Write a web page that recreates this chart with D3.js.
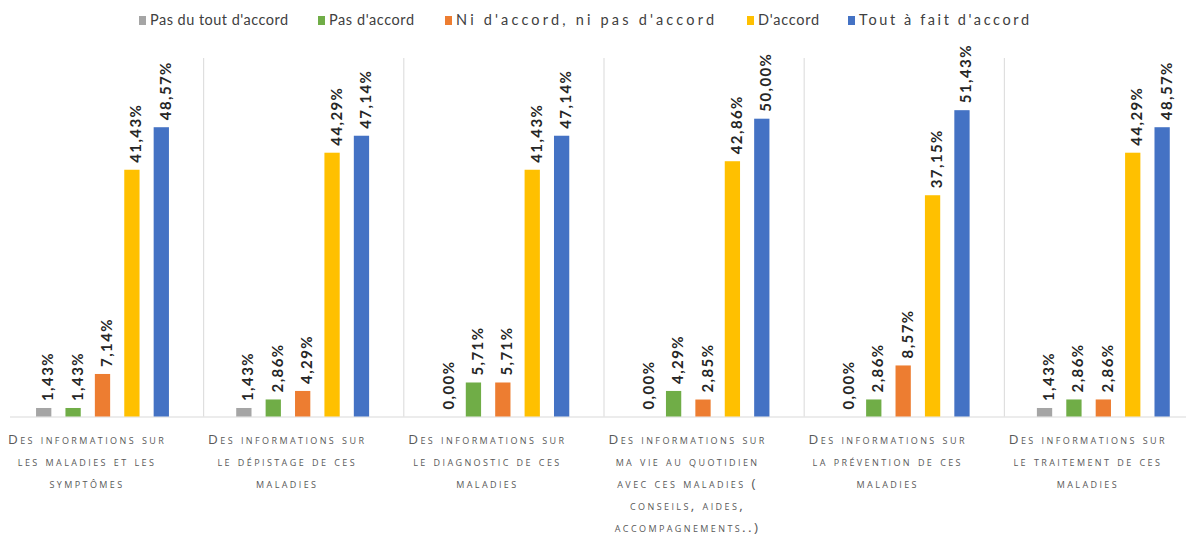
<!DOCTYPE html>
<html>
<head>
<meta charset="utf-8">
<script src="https://cdn.jsdelivr.net/npm/d3@7"></script>
<style>
  html, body { margin: 0; padding: 0; background: #fff; }
  svg { display: block; }
</style>
</head>
<body>
<svg id="chart" width="1186" height="535"></svg>
<script>
// Survey answers, one group per information topic
const categories = [
  "Des informations sur les maladies et les symptômes",
  "Des informations sur le dépistage de ces maladies",
  "Des informations sur le diagnostic de ces maladies",
  "Des informations sur ma vie au quotidien avec ces maladies ( conseils, aides, accompagnements..)",
  "Des informations sur la prévention de ces maladies",
  "Des informations sur le traitement de ces maladies"
];
// Wrapped lines of each category label
const categoryLines = [
  ["Des informations sur", "les maladies et les", "symptômes"],
  ["Des informations sur", "le dépistage de ces", "maladies"],
  ["Des informations sur", "le diagnostic de ces", "maladies"],
  ["Des informations sur", "ma vie au quotidien", "avec ces maladies (", "conseils, aides,", "accompagnements..)"],
  ["Des informations sur", "la prévention de ces", "maladies"],
  ["Des informations sur", "le traitement de ces", "maladies"]
];
const seriesNames = [
  "Pas du tout d'accord",
  "Pas d'accord",
  "Ni d'accord, ni pas d'accord",
  "D'accord",
  "Tout à fait d'accord"
];
// Percentages per series, in category order
const pasDuToutDaccord = [1.43, 1.43, 0.00, 0.00, 0.00, 1.43];
const pasDaccord       = [1.43, 2.86, 5.71, 4.29, 2.86, 2.86];
const niDaccordNiPas   = [7.14, 4.29, 5.71, 2.85, 8.57, 2.86];
const daccord          = [41.43, 44.29, 41.43, 42.86, 37.15, 44.29];
const toutAFaitDaccord = [48.57, 47.14, 47.14, 50.00, 51.43, 48.57];
const seriesValues = [pasDuToutDaccord, pasDaccord, niDaccordNiPas, daccord, toutAFaitDaccord];
const colors = ["#a5a5a5", "#70ad47", "#ed7d31", "#ffc000", "#4472c4"];

const svg = d3.select("#chart");
const baseY = 416.5;

const x0 = d3.scaleBand().domain(categories).range([3, 1204]).paddingInner(0).paddingOuter(0);
const x1 = d3.scaleBand().domain(seriesNames)
  .range([26, 173]).paddingInner(0.48).paddingOuter(0.24);
const y = d3.scaleLinear().domain([0, 50]).range([baseY, baseY - 297.8]);

// Group separators
categories.forEach((c, i) => {
  if (i === 0) return;
  svg.append("line")
    .attr("x1", x0(c) + 0.5).attr("x2", x0(c) + 0.5)
    .attr("y1", 58).attr("y2", baseY)
    .attr("stroke", "#d9d9d9").attr("stroke-width", 1);
});

// Category axis line
svg.append("line")
  .attr("x1", 10).attr("x2", 1186)
  .attr("y1", baseY + 0.5).attr("y2", baseY + 0.5)
  .attr("stroke", "#d9d9d9").attr("stroke-width", 1);

// Bars and rotated value labels
const fmt = v => v.toFixed(2).replace(".", ",") + "%";
const groups = svg.selectAll("g.cat").data(categories).join("g")
  .attr("class", "cat")
  .attr("transform", c => `translate(${x0(c)},0)`);

groups.each(function(c, ci) {
  const g = d3.select(this);
  seriesNames.forEach((s, si) => {
    const v = seriesValues[si][ci];
    const bx = x1(s);
    const bw = x1.bandwidth();
    g.append("rect")
      .attr("x", bx).attr("width", bw)
      .attr("y", y(v)).attr("height", baseY - y(v))
      .attr("fill", colors[si]);
    const cx = bx + bw / 2 + 9.5;
    const ty = y(v) - 7;
    g.append("text")
      .attr("transform", `translate(${cx},${ty}) rotate(-90)`)
      .attr("text-anchor", "start")
      .attr("font-family", "Lato, 'Liberation Sans', sans-serif")
      .attr("font-weight", "bold")
      .attr("font-size", 15)
      .attr("fill", "#262626")
      .style("letter-spacing", "1.4px")
      .text(fmt(v));
  });
});

// Category labels (small caps)
groups.each(function(c, ci) {
  const g = d3.select(this);
  const t = g.append("text")
    .attr("text-anchor", "middle")
    .attr("font-family", "'Open Sans', 'DejaVu Sans', sans-serif")
    .attr("font-size", 13.5)
    .attr("fill", "#595959")
    .style("font-variant", "small-caps")
    .style("letter-spacing", "2.4px");
  categoryLines[ci].forEach((line, li) => {
    t.append("tspan")
      .attr("x", x0.bandwidth() / 2 - 16)
      .attr("y", 444 + li * 22)
      .text(line);
  });
});

// Legend
const legendX = [139, 318, 445, 747, 848];
const legendTextWidth = [138, 85, 258, 61, 170];
const legend = svg.append("g");
seriesNames.forEach((s, i) => {
  legend.append("rect")
    .attr("x", legendX[i]).attr("y", 16)
    .attr("width", 7).attr("height", 9)
    .attr("fill", colors[i]);
  legend.append("text")
    .attr("x", legendX[i] + 11).attr("y", 25)
    .attr("font-family", "Lato, 'Liberation Sans', sans-serif")
    .attr("font-size", 14.5)
    .attr("fill", "#404040")
    .attr("textLength", legendTextWidth[i])
    .attr("lengthAdjust", "spacing")
    .text(s);
});
</script>
</body>
</html>
